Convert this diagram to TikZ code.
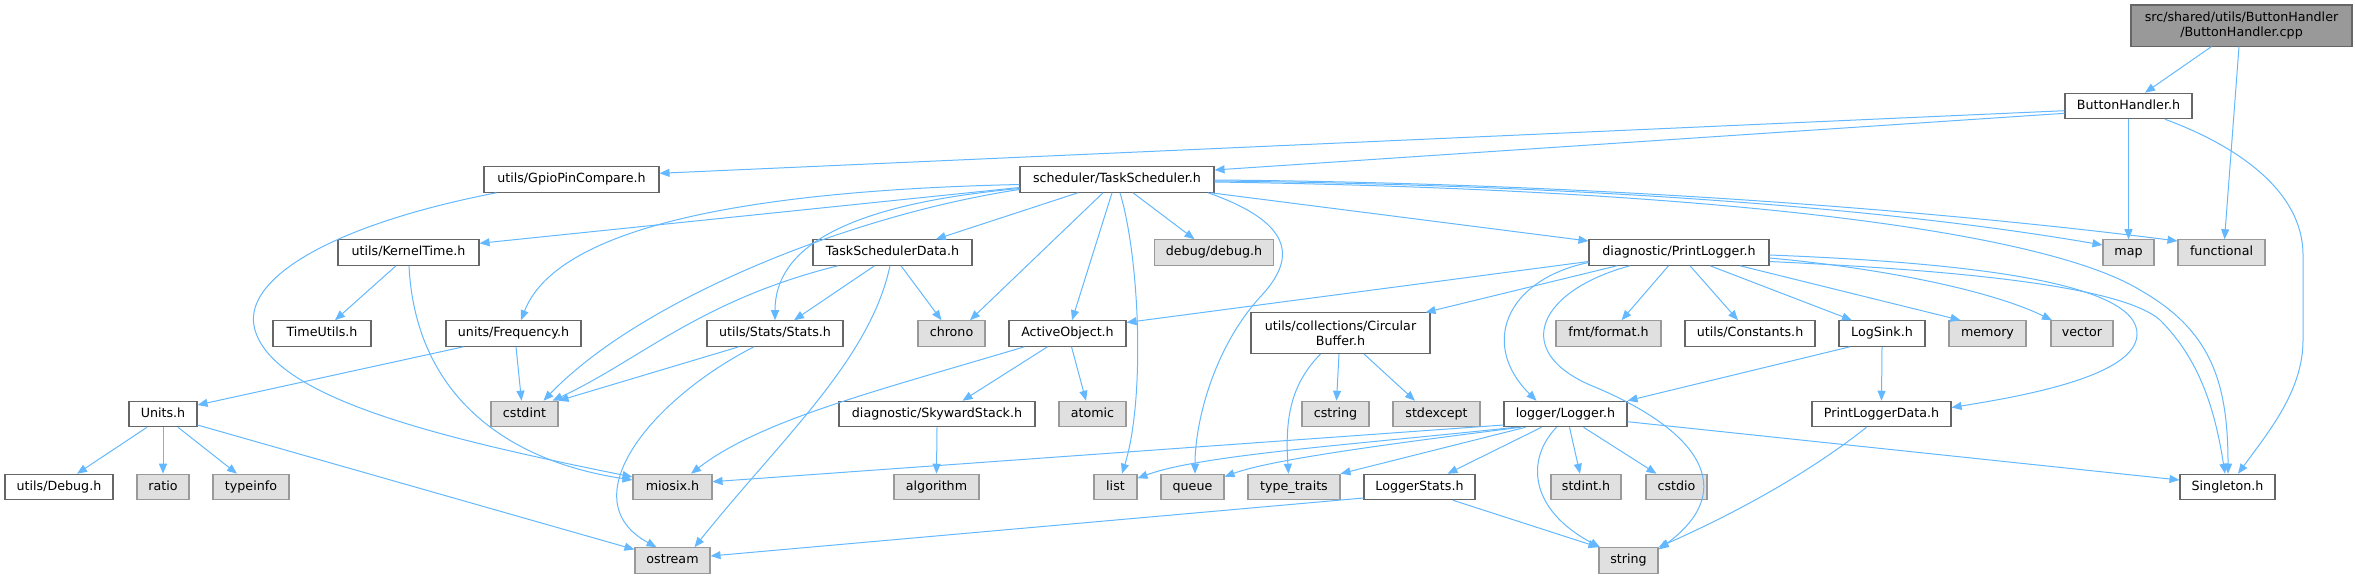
\documentclass[tikz,border=0pt]{standalone}
\usepackage{fontspec}
\setmainfont{DejaVu Sans}
\usetikzlibrary{arrows.meta}
\definecolor{edgec}{HTML}{63B8FF}
\definecolor{wborder}{HTML}{666666}
\definecolor{gfill}{HTML}{E0E0E0}
\definecolor{gborder}{HTML}{999999}
\definecolor{rootfill}{HTML}{999999}
\tikzset{
  basebox/.style={rectangle, inner sep=0pt, line width=0.8pt, minimum height=19.1pt,
    font=\fontsize{9.5}{11.25}\selectfont, text=black},
  onel/.style={text height=7.1pt, text depth=2.1pt},
  wbox/.style={basebox, onel, draw=wborder, fill=white},
  gbox/.style={basebox, onel, draw=gborder, fill=gfill},
  twobox/.style={basebox, draw=wborder, fill=white, align=center, minimum height=30.4pt},
  rootbox/.style={basebox, draw=wborder, fill=rootfill, align=center, minimum height=30.8pt},
  bw/.style={minimum width=#1*0.75pt},
  e/.style={draw=edgec, line width=0.75pt, -{Triangle[length=7.5pt,width=6pt]}, color=edgec}
}
\begin{document}
\begin{tikzpicture}[x=0.75pt,y=-0.75pt]
\useasboundingbox (0,0) rectangle (2355,579);
% nodes
\node[rootbox,bw=221] (root) at (2241.5,25.5) {src/shared/utils/ButtonHandler\\/ButtonHandler.cpp};
\node[wbox,bw=127] (bh) at (2128.5,106) {ButtonHandler.h};
\node[wbox,bw=175] (gpio) at (571.5,179.5) {utils/GpioPinCompare.h};
\node[wbox,bw=194] (ts) at (1117,179.5) {scheduler/TaskScheduler.h};
\node[gbox,bw=51] (map) at (2128.5,252.5) {map};
\node[gbox,bw=87] (func) at (2221.5,252.5) {functional};
\node[wbox,bw=141] (kt) at (408.5,252.5) {utils/KernelTime.h};
\node[wbox,bw=159] (tsd) at (892.5,252.5) {TaskSchedulerData.h};
\node[gbox,bw=119] (dbg) at (1214,252.5) {debug/debug.h};
\node[wbox,bw=180] (pl) at (1679,252.5) {diagnostic/PrintLogger.h};
\node[wbox,bw=98] (tu) at (322,333.5) {TimeUtils.h};
\node[wbox,bw=135] (freq) at (513.5,333.5) {units/Frequency.h};
\node[wbox,bw=136] (stats) at (775,333.5) {utils/Stats/Stats.h};
\node[gbox,bw=67] (chrono) at (951.5,333.5) {chrono};
\node[wbox,bw=117] (ao) at (1067.5,333.5) {ActiveObject.h};
\node[twobox,bw=179] (cb) at (1340.5,333.2) {utils/collections/Circular\\Buffer.h};
\node[gbox,bw=105] (fmt) at (1608.5,333.5) {fmt/format.h};
\node[wbox,bw=130] (cnst) at (1750,333.5) {utils/Constants.h};
\node[wbox,bw=86] (ls) at (1882,333.5) {LogSink.h};
\node[gbox,bw=77] (mem) at (1987.5,333.5) {memory};
\node[gbox,bw=62] (vec) at (2082,333.5) {vector};
\node[wbox,bw=68] (units) at (163,414) {Units.h};
\node[gbox,bw=67] (cstdint) at (524.5,414) {cstdint};
\node[wbox,bw=196] (sks) at (937,414) {diagnostic/SkywardStack.h};
\node[gbox,bw=67] (atomic) at (1092.5,414) {atomic};
\node[gbox,bw=67] (cstring) at (1335.5,414) {cstring};
\node[gbox,bw=87] (stdexc) at (1436.5,414) {stdexcept};
\node[wbox,bw=123] (logger) at (1565.5,414) {logger/Logger.h};
\node[wbox,bw=139] (pld) at (1881.5,414) {PrintLoggerData.h};
\node[wbox,bw=108] (dbgh) at (59,487) {utils/Debug.h};
\node[gbox,bw=52] (ratio) at (163,487) {ratio};
\node[gbox,bw=76] (typeinfo) at (251,487) {typeinfo};
\node[gbox,bw=79] (miosix) at (672.5,487) {miosix.h};
\node[gbox,bw=85] (algo) at (936.5,487) {algorithm};
\node[gbox,bw=43] (list) at (1115.5,487) {list};
\node[gbox,bw=63] (queue) at (1192.5,487) {queue};
\node[gbox,bw=92] (tt) at (1294,487) {type\_traits};
\node[wbox,bw=111] (lstats) at (1419.5,487) {LoggerStats.h};
\node[gbox,bw=70] (stdint) at (1586,487) {stdint.h};
\node[gbox,bw=61] (cstdio) at (1676.5,487) {cstdio};
\node[wbox,bw=95] (single) at (2227.5,487) {Singleton.h};
\node[gbox,bw=75] (ostream) at (672.5,560.5) {ostream};
\node[gbox,bw=59] (string) at (1628.5,560.5) {string};
% edges: root, ButtonHandler
\draw[e] ([shift={(-30,0)}]root.south) -- ([shift={(16.5,0)}]bh.north);
\draw[e] ([shift={(-2.5,0)}]root.south) -- ([shift={(3,0)}]func.north);
\draw[e] (bh.south) -- (map.north);
\draw[e] ([shift={(36.5,0)}]bh.south) .. controls (2235,145) and (2303,190) .. (2303,255) -- (2303,340) .. controls (2303,390) and (2270,430) .. ([shift={(10.5,0)}]single.north);
\draw[e] ([shift={(0,4.7)}]bh.west) -- ([shift={(0,-6.2)}]gpio.east);
\draw[e] ([shift={(0,7.3)}]bh.west) -- ([shift={(0,-9.5)}]ts.east);
% TaskScheduler
\draw[e] ([shift={(0,1.5)}]ts.east) .. controls (1600,185) and (1900,210) .. ([shift={(0,-7.5)}]map.west);
\draw[e] ([shift={(0,0.5)}]ts.east) .. controls (1600,183) and (1950,212) .. ([shift={(0,-11.5)}]func.west);
\draw[e] ([shift={(0,2.5)}]ts.east) .. controls (1750,190) and (2050,235) .. (2140,290) .. controls (2210,330) and (2228,380) .. ([shift={(0.5,0)}]single.north);
\draw[e] ([shift={(0,8)}]ts.west) -- ([shift={(0,-9.2)}]kt.east);
\draw[e] ([shift={(0,5)}]ts.west) .. controls (680,192) and (550,245) .. ([shift={(7.5,0)}]freq.north);
\draw[e] ([shift={(0,10)}]ts.west) .. controls (850,215) and (640,300) .. ([shift={(19,0)}]cstdint.north);
\draw[e] ([shift={(0,9)}]ts.west) .. controls (840,205) and (775,250) .. (stats.north);
\draw[e] ([shift={(-39,0)}]ts.south) -- ([shift={(43.3,0)}]tsd.north);
\draw[e] ([shift={(-14,0)}]ts.south) -- ([shift={(18.5,0)}]chrono.north);
\draw[e] ([shift={(-5,0)}]ts.south) -- ([shift={(4.5,0)}]ao.north);
\draw[e] ([shift={(3,0)}]ts.south) .. controls (1140,260) and (1145,400) .. ([shift={(6.5,0)}]list.north);
\draw[e] ([shift={(16,0)}]ts.south) -- ([shift={(-19.5,0)}]dbg.north);
\draw[e] ([shift={(91,0)}]ts.south) .. controls (1300,225) and (1292,262) .. (1262,295) .. controls (1215,345) and (1195,420) .. ([shift={(2.5,0)}]queue.north);
\draw[e] ([shift={(-4,0)}]ts.south east) -- ([shift={(0,-11.5)}]pl.west);
% KernelTime, GpioPinCompare
\draw[e] ([shift={(-12.5,0)}]kt.south) -- ([shift={(13,0)}]tu.north);
\draw[e] ([shift={(0.5,0)}]kt.south) .. controls (415,390) and (500,460) .. ([shift={(0,-7)}]miosix.west);
\draw[e] ([shift={(-75,0)}]gpio.south) .. controls (330,225) and (240,280) .. (255,330) .. controls (275,400) and (450,440) .. ([shift={(0,-10)}]miosix.west);
% TaskSchedulerData
\draw[e] ([shift={(-54.5,0)}]tsd.south) .. controls (700,300) and (640,360) .. ([shift={(28,0)}]cstdint.north);
\draw[e] ([shift={(-18,0)}]tsd.south) -- ([shift={(19,0)}]stats.north);
\draw[e] ([shift={(8.5,0)}]tsd.south) -- ([shift={(-10,0)}]chrono.north);
\draw[e] ([shift={(-2.5,0)}]tsd.south) .. controls (870,360) and (780,440) .. ([shift={(22,0)}]ostream.north);
% Frequency, Stats
\draw[e] ([shift={(-50,0)}]freq.south) -- ([shift={(0,-9)}]units.east);
\draw[e] ([shift={(2.5,0)}]freq.south) -- ([shift={(-3,0)}]cstdint.north);
\draw[e] ([shift={(-36,0)}]stats.south) -- (cstdint.north east);
\draw[e] ([shift={(-21,0)}]stats.south) .. controls (650,400) and (570,500) .. ([shift={(-16,0)}]ostream.north);
% Units
\draw[e] ([shift={(-16,0)}]units.south) -- ([shift={(18,0)}]dbgh.north);
\draw[e] (units.south) -- (ratio.north);
\draw[e] ([shift={(15,0)}]units.south) -- ([shift={(-14,0)}]typeinfo.north);
\draw[e] ([shift={(0,11)}]units.east) -- ([shift={(0,-11)}]ostream.west);
% ActiveObject, SkywardStack
\draw[e] ([shift={(-43,0)}]ao.south) .. controls (880,390) and (760,420) .. ([shift={(18.5,0)}]miosix.north);
\draw[e] ([shift={(-20,0)}]ao.south) -- ([shift={(25.5,0)}]sks.north);
\draw[e] ([shift={(4,0)}]ao.south) -- ([shift={(-6.5,0)}]atomic.north);
\draw[e] (sks.south) -- (algo.north);
% PrintLogger
\draw[e] ([shift={(0,9)}]pl.west) -- ([shift={(0,-11)}]ao.east);
\draw[e] ([shift={(-62,0)}]pl.south) -- ([shift={(-5,0)}]cb.north east);
\draw[e] ([shift={(0,10)}]pl.west) .. controls (1505,280) and (1480,345) .. ([shift={(-29,0)}]logger.north);
\draw[e] ([shift={(-49,0)}]pl.south) .. controls (1540,290) and (1510,350) .. (1590,385) .. controls (1700,430) and (1740,490) .. ([shift={(0,-11)}]string.east);
\draw[e] ([shift={(-10.5,0)}]pl.south) -- ([shift={(13,0)}]fmt.north);
\draw[e] ([shift={(11,0)}]pl.south) -- ([shift={(-12,0)}]cnst.north);
\draw[e] ([shift={(31,0)}]pl.south) -- ([shift={(-30,0)}]ls.north);
\draw[e] ([shift={(61,0)}]pl.south) -- ([shift={(-27,0)}]mem.north);
\draw[e] ([shift={(0,5.5)}]pl.east) .. controls (1880,268) and (1990,290) .. ([shift={(-30,0)}]vec.north);
\draw[e] ([shift={(0,2.5)}]pl.east) .. controls (1950,262) and (2140,280) .. (2137,335) .. controls (2135,375) and (2030,395) .. ([shift={(0,-6.5)}]pld.east);
\draw[e] ([shift={(0,9)}]pl.east) .. controls (1950,270) and (2120,285) .. (2160,320) .. controls (2200,360) and (2215,410) .. ([shift={(-2.5,0)}]single.north);
% CircularBuffer
\draw[e] ([shift={(-20,0)}]cb.south) .. controls (1290,385) and (1285,420) .. ([shift={(-5.5,0)}]tt.north);
\draw[e] ([shift={(-1.5,0)}]cb.south) -- ([shift={(1,0)}]cstring.north);
\draw[e] ([shift={(23.5,0)}]cb.south) -- ([shift={(-21.5,0)}]stdexc.north);
% LogSink
\draw[e] ([shift={(-32,0)}]ls.south) -- (logger.north east);
\draw[e] (ls.south) -- (pld.north);
% Logger
\draw[e] ([shift={(0,11)}]logger.west) -- ([shift={(0,-5.3)}]miosix.east);
\draw[e] ([shift={(-50,0)}]logger.south) .. controls (1350,445) and (1200,455) .. ([shift={(0,-8.7)}]list.east);
\draw[e] ([shift={(-45,0)}]logger.south) .. controls (1380,445) and (1270,460) .. ([shift={(0,-10.3)}]queue.east);
\draw[e] ([shift={(-40,0)}]logger.south) -- (tt.north east);
\draw[e] ([shift={(-24,0)}]logger.south) -- ([shift={(28,0)}]lstats.north);
\draw[e] ([shift={(4,0)}]logger.south) -- ([shift={(-6,0)}]stdint.north);
\draw[e] ([shift={(18,0)}]logger.south) -- ([shift={(-20,0)}]cstdio.north);
\draw[e] ([shift={(-9,0)}]logger.south) .. controls (1525,460) and (1530,510) .. ([shift={(-28.5,0)}]string.north);
\draw[e] ([shift={(0,7.7)}]logger.east) -- ([shift={(0,-7)}]single.west);
% LoggerStats, PrintLoggerData
\draw[e] ([shift={(0,11)}]lstats.west) -- ([shift={(0,-4.5)}]ostream.east);
\draw[e] ([shift={(33.5,0)}]lstats.south) -- (string.north west);
\draw[e] ([shift={(-15,0)}]pld.south) .. controls (1800,480) and (1720,520) .. (string.north east);
\end{tikzpicture}
\end{document}
